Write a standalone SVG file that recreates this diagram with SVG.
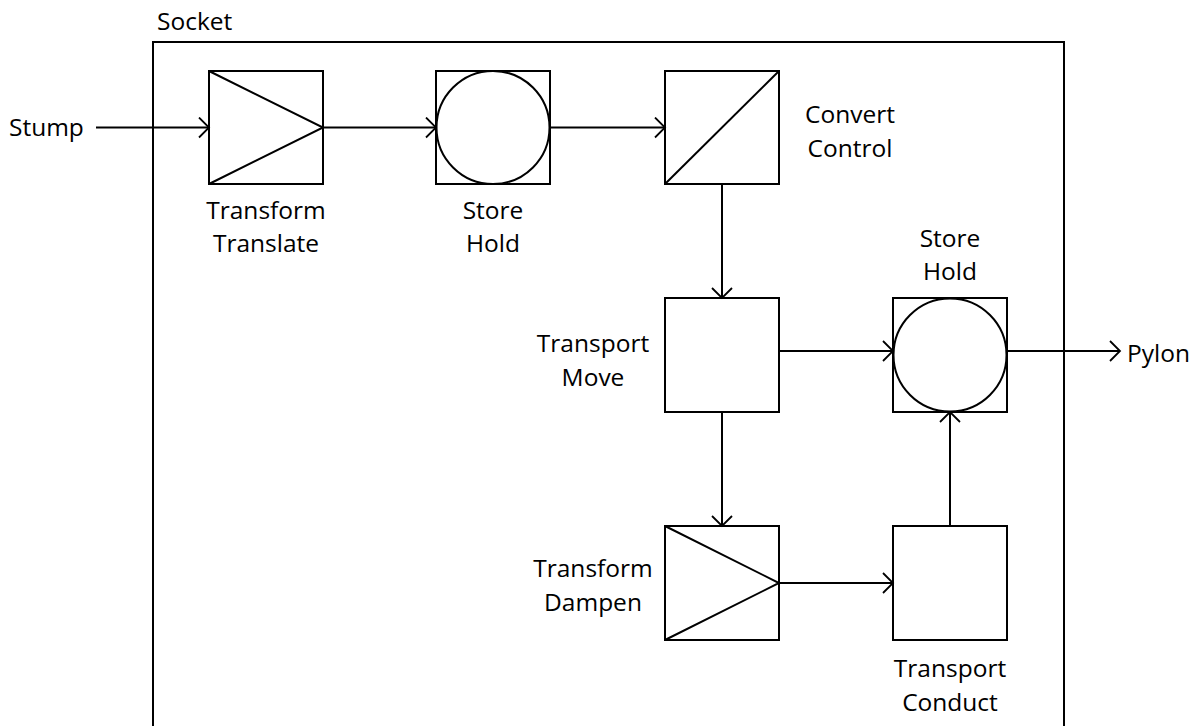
<svg xmlns="http://www.w3.org/2000/svg" width="1203" height="726" viewBox="0 0 1203 726">
<defs>
<marker id="arr" markerWidth="14" markerHeight="22" refX="11" refY="11" orient="auto" markerUnits="userSpaceOnUse">
<path d="M1,1 L11,11 L1,21" fill="none" stroke="#000" stroke-width="1.8"/>
</marker>
</defs>
<style>
.box{fill:#fff;stroke:#000;stroke-width:2}
.sym{fill:none;stroke:#000;stroke-width:2}
.edge{fill:none;stroke:#000;stroke-width:2;marker-end:url(#arr)}
text{font-family:"Open Sans","Noto Sans","Liberation Sans",sans-serif;font-size:24.5px;fill:#000}
.c{text-anchor:middle}
</style>
<rect width="1203" height="726" fill="#fff"/>
<g id="socket">
<path d="M153,740 V42 H1064 V740" class="sym"/>
<text x="157" y="30">Socket</text>
</g>
<g id="stump"><text x="9" y="136">Stump</text></g>
<g id="pylon"><text x="1127" y="362">Pylon</text></g>
<g id="transform-translate">
<rect x="209" y="71" width="114" height="113" class="box"/>
<path d="M209,71 L323,127.5 L209,184" class="sym"/>
<text class="c" x="266" y="219">Transform</text>
<text class="c" x="266" y="252">Translate</text>
</g>
<g id="store-hold-1">
<rect x="436" y="71" width="114" height="113" class="box"/>
<circle cx="493" cy="127.5" r="56.5" class="sym"/>
<text class="c" x="493" y="219">Store</text>
<text class="c" x="493" y="252">Hold</text>
</g>
<g id="convert-control">
<rect x="665" y="71" width="114" height="113" class="box"/>
<path d="M665,184 L779,71" class="sym"/>
<text class="c" x="850" y="123">Convert</text>
<text class="c" x="850" y="157">Control</text>
</g>
<g id="transport-move">
<rect x="665" y="298" width="114" height="114" class="box"/>
<text class="c" x="593" y="352">Transport</text>
<text class="c" x="593" y="386">Move</text>
</g>
<g id="store-hold-2">
<rect x="893" y="298" width="114" height="114" class="box"/>
<circle cx="950" cy="355" r="56.5" class="sym"/>
<text class="c" x="950" y="247">Store</text>
<text class="c" x="950" y="280">Hold</text>
</g>
<g id="transform-dampen">
<rect x="665" y="526" width="114" height="114" class="box"/>
<path d="M665,526 L779,583 L665,640" class="sym"/>
<text class="c" x="593" y="577">Transform</text>
<text class="c" x="593" y="611">Dampen</text>
</g>
<g id="transport-conduct">
<rect x="893" y="526" width="114" height="114" class="box"/>
<text class="c" x="950" y="677">Transport</text>
<text class="c" x="950" y="711">Conduct</text>
</g>
<g id="connectors">
<path class="edge" d="M96,127.5 H209"/>
<path class="edge" d="M323,127.5 H436"/>
<path class="edge" d="M550,127.5 H665"/>
<path class="edge" d="M722,184 V298"/>
<path class="edge" d="M779,351 H893"/>
<path class="edge" d="M1007,351 H1120"/>
<path class="edge" d="M722,412 V526"/>
<path class="edge" d="M779,583 H893"/>
<path class="edge" d="M950,526 V412"/>
</g>
</svg>
